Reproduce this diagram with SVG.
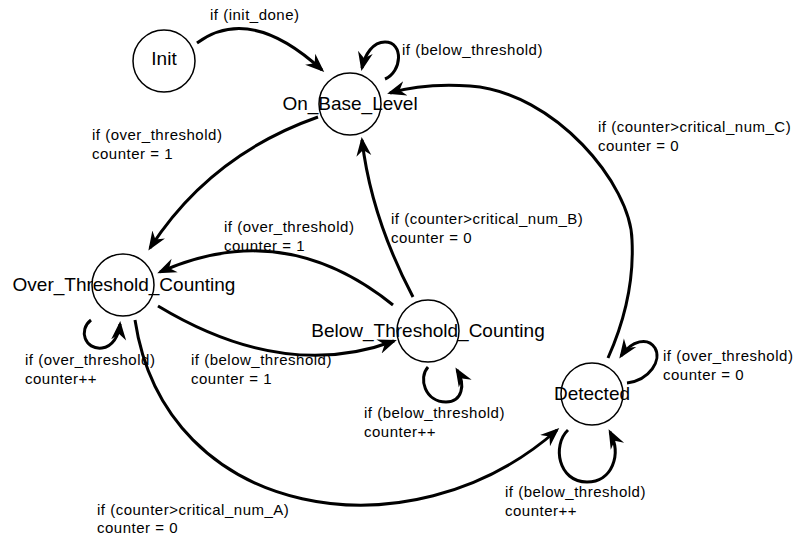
<svg xmlns="http://www.w3.org/2000/svg" width="806" height="537" viewBox="0 0 806 537">
<style>
.st{fill:#fff;stroke:#000;stroke-width:1.5}
.nl{font-family:"Liberation Sans",Arial,sans-serif;font-size:19px;fill:#000;text-anchor:middle}
.el{font-family:"Liberation Sans",Arial,sans-serif;font-size:15px;letter-spacing:0.5px;fill:#000}
.e{fill:none;stroke:#000;stroke-width:3;marker-end:url(#arr)}
</style>
<defs>
<marker id="arr" markerUnits="userSpaceOnUse" markerWidth="22" markerHeight="18" viewBox="0 0 22 18" refX="16" refY="9" orient="auto">
<path d="M19,9 L0,1.5 L6,9 L0,16.5 Z" fill="#000"/>
</marker>
</defs>
<g id="edges">
<path class="e" d="M197,43 Q250,4 322,70"/>
<path class="e" d="M385,79 C402,72 404,42 385,42 C373,42 365,54 362,68"/>
<path class="e" d="M91,320 C78,330 85,350 102,348 C112,347 119,336 120,324"/>
<path class="e" d="M428,367 C418,378 425,402 446,402 C462,402 466,385 457,370"/>
<path class="e" d="M627,383 C650,380 662,360 655,348 C648,337 632,340 621,356"/>
<path class="e" d="M568,430 C552,445 558,482 587,482 C612,482 622,455 610,432"/>
<path class="e" d="M318,117 Q210,155 150,248"/>
<path class="e" d="M158,306 Q284,382 394,341"/>
<path class="e" d="M393,305 Q284,217 160,272"/>
<path class="e" d="M413,297 Q371,217 362,140"/>
<path class="e" d="M608,358 C625,320 634,280 632,240 C631,185 555,92 470,86 C440,84 410,87 390,93"/>
<path class="e" d="M135,320 C165,520 410,560 557,430"/>
</g>
<g id="edge-labels">
<text class="el" x="210" y="20">if (init_done)</text>
<text class="el" x="402" y="55">if (below_threshold)</text>
<text class="el" x="92" y="140">if (over_threshold)</text>
<text class="el" x="92" y="159">counter = 1</text>
<text class="el" x="598" y="132">if (counter&gt;critical_num_C)</text>
<text class="el" x="598" y="151">counter = 0</text>
<text class="el" x="391" y="224">if (counter&gt;critical_num_B)</text>
<text class="el" x="391" y="243">counter = 0</text>
<text class="el" x="224" y="232">if (over_threshold)</text>
<text class="el" x="224" y="251">counter = 1</text>
<text class="el" x="25" y="365">if (over_threshold)</text>
<text class="el" x="25" y="384">counter++</text>
<text class="el" x="191" y="365">if (below_threshold)</text>
<text class="el" x="191" y="384">counter = 1</text>
<text class="el" x="364" y="418">if (below_threshold)</text>
<text class="el" x="364" y="437">counter++</text>
<text class="el" x="663" y="361">if (over_threshold)</text>
<text class="el" x="663" y="380">counter = 0</text>
<text class="el" x="505" y="497">if (below_threshold)</text>
<text class="el" x="505" y="516">counter++</text>
<text class="el" x="97" y="515">if (counter&gt;critical_num_A)</text>
<text class="el" x="97" y="533">counter = 0</text>
</g>
<g id="Init"><circle class="st" cx="164" cy="61" r="31"/><text class="nl" x="164" y="65">Init</text></g>
<g id="On_Base_Level"><circle class="st" cx="350" cy="104" r="31"/><text class="nl" x="350" y="110">On_Base_Level</text></g>
<g id="Over_Threshold_Counting"><circle class="st" cx="123" cy="285" r="31"/><text class="nl" x="124" y="291">Over_Threshold_Counting</text></g>
<g id="Below_Threshold_Counting"><circle class="st" cx="428" cy="331" r="31"/><text class="nl" x="428" y="337">Below_Threshold_Counting</text></g>
<g id="Detected"><circle class="st" cx="592" cy="394" r="31"/><text class="nl" x="592" y="400">Detected</text></g>
</svg>
